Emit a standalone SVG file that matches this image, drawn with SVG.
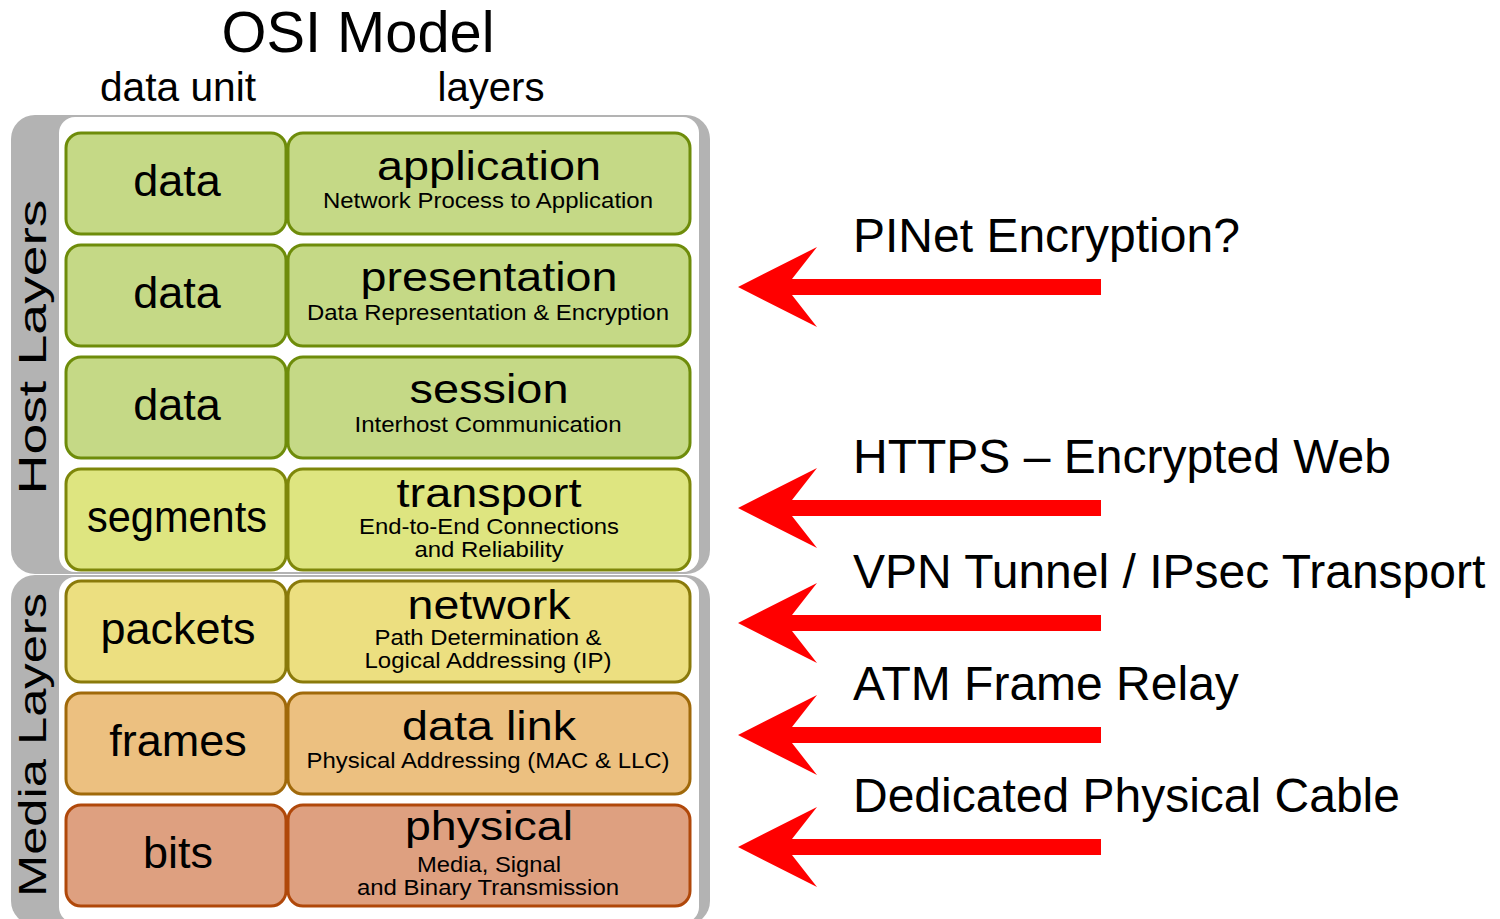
<svg xmlns="http://www.w3.org/2000/svg" width="1500" height="919" viewBox="0 0 1500 919">
  <style>
    text { font-family: "Liberation Sans", Arial, sans-serif; fill: #000; }
    .title { font-size: 58px; text-anchor: middle; }
    .head { font-size: 40px; text-anchor: middle; }
    .unit { font-size: 45px; text-anchor: middle; }
    .name { font-size: 41px; text-anchor: middle; }
    .sub { font-size: 22px; text-anchor: middle; }
    .side { font-size: 38px; text-anchor: middle; }
    .note { font-size: 48px; }
    .band { fill: #b3b3b3; }
    .inner { fill: #ffffff; }
    .box { stroke-width: 3; }
    .l7 { fill: #c5d986; stroke: #6e8c0a; }
    .l4 { fill: #dee580; stroke: #7e870a; }
    .l3 { fill: #ecdf80; stroke: #8a7a0a; }
    .l2 { fill: #ecc080; stroke: #a0690a; }
    .l1 { fill: #dea080; stroke: #b0480a; }
    .arrow { fill: #ff0000; }
  </style>
  <defs>
    <!-- left-pointing block arrow with its tip at the origin -->
    <path id="leftArrow" class="arrow" d="M0 0 L79 -40 L54 -8 L363 -8 L363 8 L54 8 L79 40 Z"/>
  </defs>

  <rect width="1500" height="919" fill="#ffffff"/>

  <!-- heading -->
  <g id="heading">
    <text class="title" x="358" y="52" textLength="273" lengthAdjust="spacingAndGlyphs">OSI Model</text>
    <text class="head" x="178" y="101" textLength="156" lengthAdjust="spacingAndGlyphs">data unit</text>
    <text class="head" x="491" y="101" textLength="107" lengthAdjust="spacingAndGlyphs">layers</text>
  </g>

  <!-- grouping panels -->
  <g id="host-panel">
    <rect class="band" x="11" y="115" width="699" height="459" rx="24"/>
    <rect class="inner" x="59" y="117" width="640" height="455" rx="16"/>
    <text class="side" transform="translate(46 347) rotate(-90)" textLength="295" lengthAdjust="spacingAndGlyphs">Host Layers</text>
  </g>
  <g id="media-panel">
    <rect class="band" x="11" y="575" width="699" height="350" rx="24"/>
    <rect class="inner" x="59" y="577" width="640" height="346" rx="16"/>
    <text class="side" transform="translate(46 745) rotate(-90)" textLength="304" lengthAdjust="spacingAndGlyphs">Media Layers</text>
  </g>

  <!-- layer rows -->
  <g id="application">
    <rect class="box l7" x="66" y="133" width="220" height="101" rx="15"/>
    <rect class="box l7" x="288" y="133" width="402" height="101" rx="15"/>
    <text class="unit" x="177" y="196">data</text>
    <text class="name" x="489" y="180" textLength="224" lengthAdjust="spacingAndGlyphs">application</text>
    <text class="sub" x="488" y="208" textLength="330" lengthAdjust="spacingAndGlyphs">Network Process to Application</text>
  </g>
  <g id="presentation">
    <rect class="box l7" x="66" y="245" width="220" height="101" rx="15"/>
    <rect class="box l7" x="288" y="245" width="402" height="101" rx="15"/>
    <text class="unit" x="177" y="308">data</text>
    <text class="name" x="489" y="291" textLength="257" lengthAdjust="spacingAndGlyphs">presentation</text>
    <text class="sub" x="488" y="320" textLength="362" lengthAdjust="spacingAndGlyphs">Data Representation &amp; Encryption</text>
  </g>
  <g id="session">
    <rect class="box l7" x="66" y="357" width="220" height="101" rx="15"/>
    <rect class="box l7" x="288" y="357" width="402" height="101" rx="15"/>
    <text class="unit" x="177" y="420">data</text>
    <text class="name" x="489" y="403" textLength="159" lengthAdjust="spacingAndGlyphs">session</text>
    <text class="sub" x="488" y="432" textLength="267" lengthAdjust="spacingAndGlyphs">Interhost Communication</text>
  </g>
  <g id="transport">
    <rect class="box l4" x="66" y="469" width="220" height="101" rx="15"/>
    <rect class="box l4" x="288" y="469" width="402" height="101" rx="15"/>
    <text class="unit" x="177" y="532" textLength="180" lengthAdjust="spacingAndGlyphs">segments</text>
    <text class="name" x="489" y="507" textLength="185" lengthAdjust="spacingAndGlyphs">transport</text>
    <text class="sub" x="489" y="534" textLength="260" lengthAdjust="spacingAndGlyphs">End-to-End Connections</text>
    <text class="sub" x="489" y="557" textLength="149" lengthAdjust="spacingAndGlyphs">and Reliability</text>
  </g>
  <g id="network">
    <rect class="box l3" x="66" y="581" width="220" height="101" rx="15"/>
    <rect class="box l3" x="288" y="581" width="402" height="101" rx="15"/>
    <text class="unit" x="178" y="644">packets</text>
    <text class="name" x="489" y="619" textLength="163" lengthAdjust="spacingAndGlyphs">network</text>
    <text class="sub" x="488" y="645" textLength="227" lengthAdjust="spacingAndGlyphs">Path Determination &amp;</text>
    <text class="sub" x="488" y="668" textLength="247" lengthAdjust="spacingAndGlyphs">Logical Addressing (IP)</text>
  </g>
  <g id="data-link">
    <rect class="box l2" x="66" y="693" width="220" height="101" rx="15"/>
    <rect class="box l2" x="288" y="693" width="402" height="101" rx="15"/>
    <text class="unit" x="178" y="756">frames</text>
    <text class="name" x="489" y="740" textLength="174" lengthAdjust="spacingAndGlyphs">data link</text>
    <text class="sub" x="488" y="768" textLength="363" lengthAdjust="spacingAndGlyphs">Physical Addressing (MAC &amp; LLC)</text>
  </g>
  <g id="physical">
    <rect class="box l1" x="66" y="805" width="220" height="101" rx="15"/>
    <rect class="box l1" x="288" y="805" width="402" height="101" rx="15"/>
    <text class="unit" x="178" y="868">bits</text>
    <text class="name" x="489" y="840" textLength="168" lengthAdjust="spacingAndGlyphs">physical</text>
    <text class="sub" x="489" y="872" textLength="144" lengthAdjust="spacingAndGlyphs">Media, Signal</text>
    <text class="sub" x="488" y="895" textLength="262" lengthAdjust="spacingAndGlyphs">and Binary Transmission</text>
  </g>

  <!-- annotation arrows -->
  <g id="connectors">
    <use href="#leftArrow" x="738" y="287"/>
    <use href="#leftArrow" x="738" y="508"/>
    <use href="#leftArrow" x="738" y="623"/>
    <use href="#leftArrow" x="738" y="735"/>
    <use href="#leftArrow" x="738" y="847"/>
  </g>

  <!-- annotation labels -->
  <g id="labels">
    <text class="note" x="853" y="252">PINet Encryption?</text>
    <text class="note" x="853" y="473">HTTPS – Encrypted Web</text>
    <text class="note" x="853" y="588">VPN Tunnel / IPsec Transport</text>
    <text class="note" x="853" y="700">ATM Frame Relay</text>
    <text class="note" x="853" y="812">Dedicated Physical Cable</text>
  </g>
</svg>
